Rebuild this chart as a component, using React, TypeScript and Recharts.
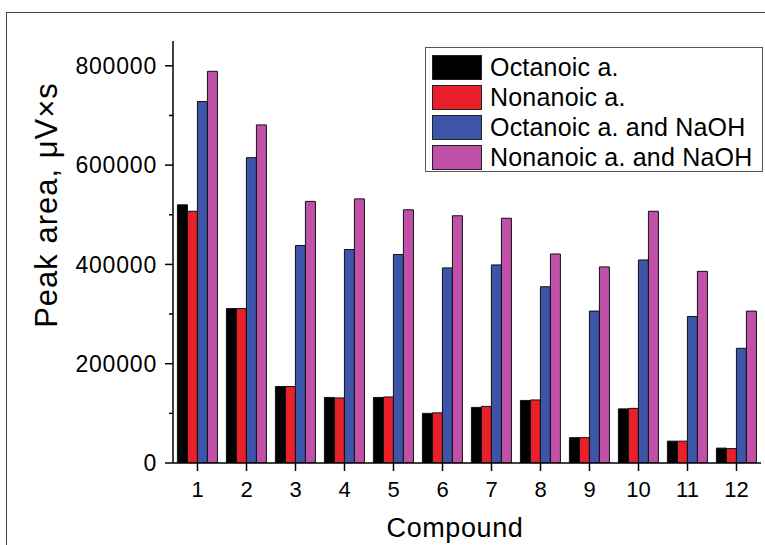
import React from "react";
import { BarChart, Bar, XAxis, YAxis, Legend } from "recharts";

const compounds = ["1", "2", "3", "4", "5", "6", "7", "8", "9", "10", "11", "12"];
const octanoic = [520000, 311000, 154000, 132000, 132000, 100000, 112000, 126000, 51000, 109000, 44000, 30000];
const nonanoic = [507000, 311000, 154000, 131000, 133000, 101000, 114000, 127000, 51000, 110000, 44000, 29000];
const octanoicNaOH = [728000, 615000, 438000, 430000, 420000, 393000, 399000, 355000, 306000, 409000, 295000, 231000];
const nonanoicNaOH = [789000, 681000, 527000, 532000, 510000, 498000, 493000, 421000, 395000, 507000, 386000, 306000];
const yTicks = [0, 100000, 200000, 300000, 400000, 500000, 600000, 700000, 800000];

const series = [
  { key: "oct", name: "Octanoic a.", color: "#000000", values: octanoic },
  { key: "non", name: "Nonanoic a.", color: "#e8202a", values: nonanoic },
  { key: "octNa", name: "Octanoic a. and NaOH", color: "#3d55a8", values: octanoicNaOH },
  { key: "nonNa", name: "Nonanoic a. and NaOH", color: "#c050a8", values: nonanoicNaOH },
];

const data = compounds.map((c, i) => {
  const row: Record<string, string | number> = { name: c };
  series.forEach((s) => (row[s.key] = s.values[i]));
  return row;
});

const FONT = "'Liberation Sans', Arial, Helvetica, sans-serif";

// major ticks get a label, minor ones only a short line
function YTick(props: any) {
  const { x, y, payload } = props;
  const major = payload.value % 200000 === 0;
  return (
    <g>
      <line x1={x} x2={x - (major ? 8 : 4)} y1={y} y2={y} stroke="#000" strokeWidth={1.5} />
      {major && (
        <text x={x - 16} y={y} dy="0.36em" textAnchor="end" fontSize={23} fontFamily={FONT} fill="#000" letterSpacing={0.8}>
          {payload.value}
        </text>
      )}
    </g>
  );
}

function YTitle() {
  return (
    <text x={57} y={205} transform="rotate(-90 57 205)" textAnchor="middle" fontSize={31} fontFamily={FONT} fill="#000" letterSpacing={1}>
      Peak area, μV×s
    </text>
  );
}

function XTitle() {
  return (
    <text x={455} y={537} textAnchor="middle" fontSize={27} fontFamily={FONT} fill="#000" letterSpacing={0.6}>
      Compound
    </text>
  );
}

// legend keeps the series order (the default legend sorts by name)
function LegendBox() {
  return (
    <div
      style={{
        border: "1.5px solid #555",
        background: "#fff",
        padding: "4px 0 0 6px",
        width: 338,
        height: 125,
        boxSizing: "border-box",
        fontFamily: FONT,
      }}
    >
      {series.map((s) => (
        <div key={s.key} style={{ display: "flex", alignItems: "center", height: 30, whiteSpace: "nowrap" }}>
          <span
            style={{
              display: "inline-block",
              flex: "none",
              width: 50,
              height: 25,
              background: s.color,
              border: "1px solid #222",
              boxSizing: "border-box",
              marginRight: 8,
            }}
          />
          <span style={{ fontSize: 25, letterSpacing: 0.2, color: "#000", lineHeight: "30px" }}>{s.name}</span>
        </div>
      ))}
    </div>
  );
}

export default function App() {
  return (
    <div style={{ position: "absolute", left: 0, top: 0, width: 765, height: 545, overflow: "hidden", background: "#fff" }}>
      <div
        style={{
          position: "absolute",
          left: 6,
          top: 12,
          width: 820,
          height: 620,
          border: "1.5px solid #444",
        }}
      />
      <BarChart
        width={765}
        height={545}
        data={data}
        margin={{ top: 41, right: 4, left: 0, bottom: 0 }}
        barGap={0}
        barCategoryGap="9%"
        style={{ position: "absolute", left: 0, top: 0 }}
      >
        <XAxis
          dataKey="name"
          height={82}
          tickSize={8}
          tickMargin={10}
          stroke="#000"
          strokeWidth={1.5}
          tick={{ fill: "#000", fontSize: 22, fontFamily: FONT }}
          label={<XTitle />}
        />
        <YAxis
          width={173}
          domain={[0, 850000]}
          ticks={yTicks}
          interval={0}
          allowDataOverflow
          stroke="#000"
          strokeWidth={1.5}
          tickLine={false}
          tickSize={0}
          tickMargin={0}
          tick={<YTick />}
          label={<YTitle />}
        />
        <Legend
          layout="vertical"
          align="center"
          verticalAlign="middle"
          wrapperStyle={{ left: 425, top: 47, width: 338 }}
          content={<LegendBox />}
        />
        {series.map((s) => (
          <Bar
            key={s.key}
            dataKey={s.key}
            name={s.name}
            fill={s.color}
            stroke="#111"
            strokeWidth={1}
            isAnimationActive={false}
          />
        ))}
      </BarChart>
    </div>
  );
}
